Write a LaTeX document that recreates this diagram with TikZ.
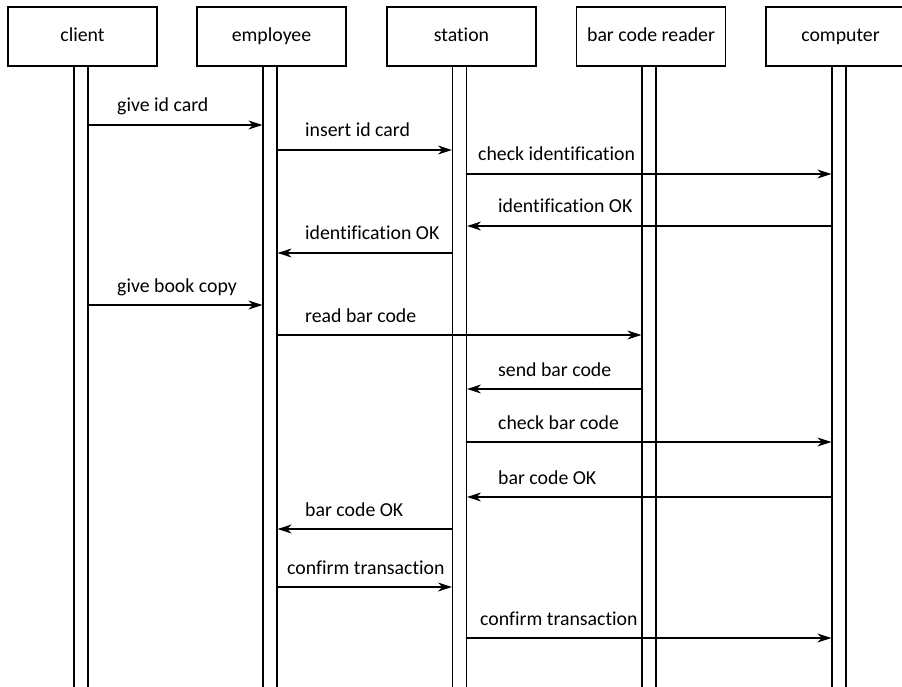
\documentclass[tikz,border=0pt]{standalone}
\usepackage{fontspec}
\setmainfont{Carlito}[Ligatures=NoCommon]
\usetikzlibrary{arrows.meta}
\begin{document}
\begin{tikzpicture}[x=1pt,y=-1pt,
  actor/.style={draw=black,line width=1.2pt,fill=white,minimum width=149pt,minimum height=59pt,inner sep=0pt,text height=14pt,text depth=3pt,font=\fontsize{19.8}{22}\selectfont},
  lifebar/.style={draw=black,line width=1.2pt,fill=white,minimum width=14pt,minimum height=640pt,inner sep=0pt},
  msg/.style={draw=black,line width=1.1pt,-{Stealth[length=14pt,width=9pt,inset=4.5pt]}},
  lbl/.style={anchor=base west,inner sep=0pt,font=\fontsize{19.8}{22}\selectfont}]
\useasboundingbox (0,0) rectangle (902,687);
\clip (0,0) rectangle (902,687);
% actors
\node[actor] (client)   at (82.5,36.5) {client};
\node[actor] (employee) at (271.5,36.5) {employee};
\node[actor] (station)  at (461.5,36.5) {station};
\node[actor] (reader)   at (651,36.5) {bar code reader};
\node[actor] (computer) at (840.5,36.5) {computer};
% lifelines
\node[lifebar,anchor=north] (lc) at (81,66) {};
\node[lifebar,anchor=north] (le) at (270,66) {};
\node[lifebar,anchor=north] (ls) at (459.5,66) {};
\node[lifebar,anchor=north] (lr) at (649,66) {};
\node[lifebar,anchor=north] (lp) at (839,66) {};
% messages
\draw[msg] (lc.east |- 0,125) -- (le.west |- 0,125);
\node[lbl] (m1) at (117,112) {give id card};
\draw[msg] (le.east |- 0,150) -- (ls.west |- 0,150);
\node[lbl] (m2) at (305,137) {insert id card};
\draw[msg] (ls.east |- 0,174) -- (lp.west |- 0,174);
\node[lbl] (m3) at (478,161) {check identification};
\draw[msg] (lp.west |- 0,226) -- (ls.east |- 0,226);
\node[lbl] (m4) at (498,213) {identification OK};
\draw[msg] (ls.west |- 0,253) -- (le.east |- 0,253);
\node[lbl] (m5) at (305,240) {identification OK};
\draw[msg] (lc.east |- 0,305) -- (le.west |- 0,305);
\node[lbl] (m6) at (117,292) {give book copy};
\draw[msg] (le.east |- 0,335) -- (lr.west |- 0,335);
\node[lbl] (m7) at (305,322) {read bar code};
\draw[msg] (lr.west |- 0,389) -- (ls.east |- 0,389);
\node[lbl] (m8) at (498,376) {send bar code};
\draw[msg] (ls.east |- 0,442) -- (lp.west |- 0,442);
\node[lbl] (m9) at (498,429) {check bar code};
\draw[msg] (lp.west |- 0,497) -- (ls.east |- 0,497);
\node[lbl] (m10) at (498,484) {bar code OK};
\draw[msg] (ls.west |- 0,529) -- (le.east |- 0,529);
\node[lbl] (m11) at (305,516) {bar code OK};
\draw[msg] (le.east |- 0,587) -- (ls.west |- 0,587);
\node[lbl] (m12) at (287,574) {confirm transaction};
\draw[msg] (ls.east |- 0,638) -- (lp.west |- 0,638);
\node[lbl] (m13) at (480,625) {confirm transaction};
\end{tikzpicture}
\end{document}
